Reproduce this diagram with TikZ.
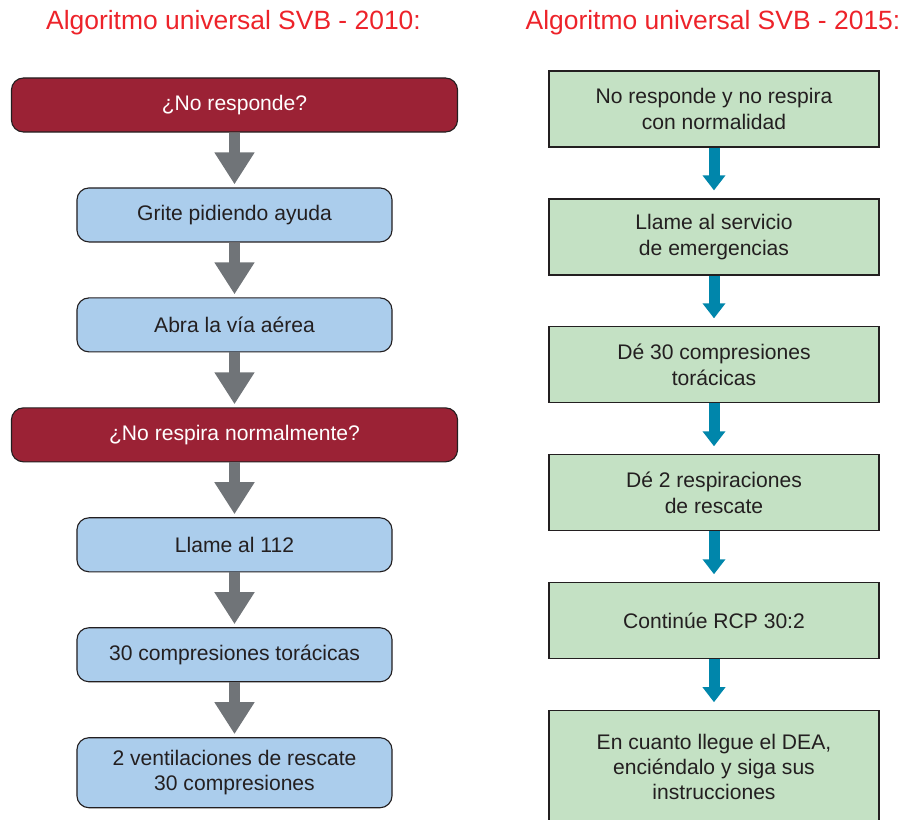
\documentclass[tikz,border=0pt]{standalone}
\usepackage{fontspec}
\setmainfont{Liberation Sans}
\usepackage{xcolor}
\usetikzlibrary{arrows.meta, positioning}
\definecolor{rojoSVB}{RGB}{155,34,53}
\definecolor{azulcaja}{RGB}{171,205,236}
\definecolor{verdecaja}{RGB}{196,225,196}
\definecolor{grisflecha}{RGB}{112,116,120}
\definecolor{azulflecha}{RGB}{0,134,171}
\definecolor{titulo}{RGB}{237,35,42}
\definecolor{borde}{RGB}{35,31,32}
\tikzstyle{titulo} = [text=titulo, font=\fontsize{18.8}{22}\selectfont]
\tikzstyle{pregunta} = [rectangle, rounded corners=0.3cm, minimum width=11.15cm, minimum height=1.35cm, text centered, draw=borde, line width=0.8pt, fill=rojoSVB, text=white, font=\fontsize{15}{18}\selectfont]
\tikzstyle{accion} = [rectangle, rounded corners=0.3cm, minimum width=7.875cm, minimum height=1.35cm, align=center, draw=borde, line width=0.8pt, fill=azulcaja, text=borde, font=\fontsize{15}{18}\selectfont]
\tikzstyle{paso} = [rectangle, minimum width=8.25cm, minimum height=1.9cm, align=center, draw=borde, line width=0.8pt, fill=verdecaja, text=borde, font=\fontsize{15}{18}\selectfont]
\tikzstyle{flechagris} = [draw=grisflecha, line width=0.275cm, -{Triangle[length=0.8cm, width=0.95cm]}, shorten >=0.075cm]
\tikzstyle{flechaazul} = [draw=azulflecha, line width=0.275cm, -{Triangle[length=0.375cm, width=0.55cm]}, shorten >=0.2cm]

\begin{document}
\begin{tikzpicture}[x=0.025cm, y=-0.025cm, node distance=1.37cm]
    \useasboundingbox (0,0) rectangle (904,820);

    \node (t2010) [titulo] at (233.5,23) {Algoritmo universal SVB - 2010:};
    \node (t2015) [titulo] at (713,23) {Algoritmo universal SVB - 2015:};

    % 2010
    \node (q1) [pregunta] at (234.5,105) {¿No responde?};
    \node (a1) [accion, below=of q1] {Grite pidiendo ayuda};
    \node (a2) [accion, below=of a1] {Abra la vía aérea};
    \node (q2) [pregunta, below=of a2] {¿No respira normalmente?};
    \node (a3) [accion, below=of q2] {Llame al 112};
    \node (a4) [accion, below=of a3] {30 compresiones torácicas};
    \node (a5) [accion, below=of a4, minimum height=1.75cm] {2 ventilaciones de rescate\\30 compresiones};

    \draw [flechagris] (q1) -- (a1);
    \draw [flechagris] (a1) -- (a2);
    \draw [flechagris] (a2) -- (q2);
    \draw [flechagris] (q2) -- (a3);
    \draw [flechagris] (a3) -- (a4);
    \draw [flechagris] (a4) -- (a5);

    % 2015
    \node (p1) [paso] at (714,109) {No responde y no respira\\con normalidad};
    \node (p2) [paso, below=1.27cm of p1] {Llame al servicio\\de emergencias};
    \node (p3) [paso, below=1.27cm of p2] {Dé 30 compresiones\\torácicas};
    \node (p4) [paso, below=1.27cm of p3] {Dé 2 respiraciones\\de rescate};
    \node (p5) [paso, below=1.27cm of p4] {Continúe RCP 30:2};
    \node (p6) [paso, below=1.27cm of p5, minimum height=2.8cm] {En cuanto llegue el DEA,\\enciéndalo y siga sus\\instrucciones};

    \draw [flechaazul] (p1) -- (p2);
    \draw [flechaazul] (p2) -- (p3);
    \draw [flechaazul] (p3) -- (p4);
    \draw [flechaazul] (p4) -- (p5);
    \draw [flechaazul] (p5) -- (p6);
\end{tikzpicture}
\end{document}
